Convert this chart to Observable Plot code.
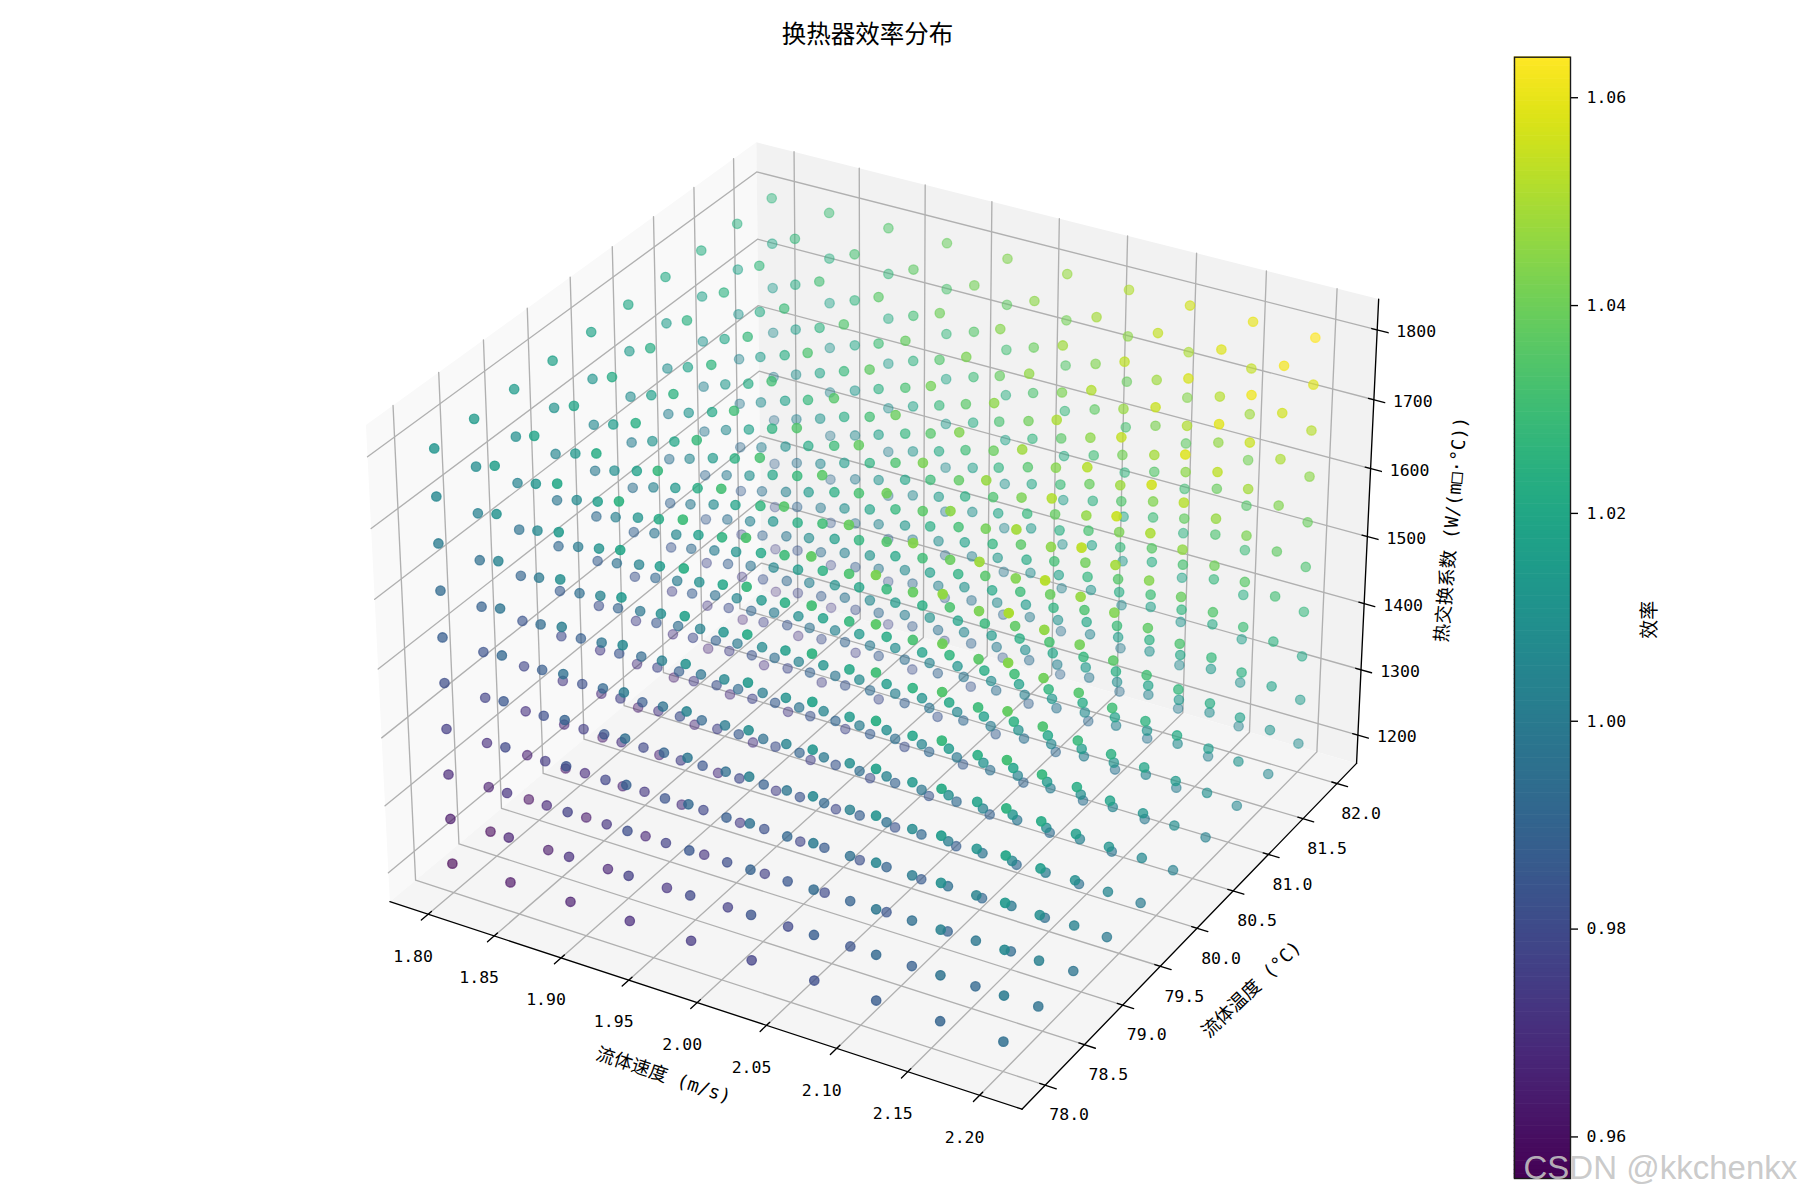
<!DOCTYPE html>
<html><head><meta charset="utf-8">
<style>
html,body{margin:0;padding:0;background:#fff;width:1800px;height:1200px;overflow:hidden}
#row{display:flex;width:1800px;height:1200px}
svg{display:block}
</style>
<script src="https://cdn.jsdelivr.net/npm/d3@7"></script>
<script src="https://cdn.jsdelivr.net/npm/@observablehq/plot@0.6"></script>
</head><body><div id="row"></div>
<script>
const velocities = [1.8, 1.844, 1.889, 1.933, 1.978, 2.022, 2.067, 2.111, 2.156, 2.2];
const temperatures = [78, 78.44, 78.89, 79.33, 79.78, 80.22, 80.67, 81.11, 81.56, 82];
const coefficients = [1200, 1267, 1333, 1400, 1467, 1533, 1600, 1667, 1733, 1800];
const velocityTicks = [1.8, 1.85, 1.9, 1.95, 2.0, 2.05, 2.1, 2.15, 2.2];
const temperatureTicks = [78, 78.5, 79, 79.5, 80, 80.5, 81, 81.5, 82];
const coefficientTicks = [1200, 1300, 1400, 1500, 1600, 1700, 1800];
const efficiencyTicks = [0.96, 0.98, 1.0, 1.02, 1.04, 1.06];
const efficiencyDomain = [0.956, 1.0639];
// efficiency x 1000: one block per coefficient, one row per temperature, one column per velocity
const efficiency1200 = [
956,960,964,969,973,977,981,986,990,994,
958,962,966,971,975,979,983,988,992,996,
959,963,967,972,976,980,984,989,993,997,
961,965,969,974,978,982,986,991,995,999,
962,966,970,975,979,983,987,992,996,1000,
964,968,972,977,981,985,989,994,998,1002,
965,969,973,978,982,986,990,995,999,1003,
967,971,975,980,984,988,992,997,1001,1005,
968,972,976,981,985,989,993,998,1002,1006,
970,974,978,983,987,991,995,1000,1004,1008];
const efficiency1267 = [
962,966,970,975,979,983,987,992,996,1000,
964,968,972,977,981,985,989,994,998,1002,
965,969,973,978,982,986,990,995,999,1003,
967,971,975,980,984,988,992,997,1001,1005,
968,972,976,981,985,989,993,998,1002,1006,
970,974,978,983,987,991,995,1000,1004,1008,
971,975,979,984,988,992,996,1001,1005,1009,
973,977,981,986,990,994,998,1003,1007,1011,
974,978,982,987,991,995,999,1004,1008,1012,
976,980,984,989,993,997,1001,1006,1010,1014];
const efficiency1333 = [
968,972,976,981,985,989,993,998,1002,1006,
970,974,978,983,987,991,995,1000,1004,1008,
971,975,979,984,988,992,996,1001,1005,1009,
973,977,981,986,990,994,998,1003,1007,1011,
974,978,982,987,991,995,999,1004,1008,1012,
976,980,984,989,993,997,1001,1006,1010,1014,
977,981,985,990,994,998,1002,1007,1011,1015,
979,983,987,992,996,1000,1004,1009,1013,1017,
980,984,988,993,997,1001,1005,1010,1014,1018,
982,986,990,995,999,1003,1007,1012,1016,1020];
const efficiency1400 = [
975,979,983,988,992,996,1000,1005,1009,1013,
977,981,985,990,994,998,1002,1007,1011,1015,
978,982,986,991,995,999,1003,1008,1012,1016,
980,984,988,993,997,1001,1005,1010,1014,1018,
981,985,989,994,998,1002,1006,1011,1015,1019,
983,987,991,996,1000,1004,1008,1013,1017,1021,
984,988,992,997,1001,1005,1009,1014,1018,1022,
986,990,994,999,1003,1007,1011,1016,1020,1024,
987,991,995,1000,1004,1008,1012,1017,1021,1025,
989,993,997,1002,1006,1010,1014,1019,1023,1027];
const efficiency1467 = [
981,985,989,994,998,1002,1006,1011,1015,1019,
983,987,991,996,1000,1004,1008,1013,1017,1021,
984,988,992,997,1001,1005,1009,1014,1018,1022,
986,990,994,999,1003,1007,1011,1016,1020,1024,
987,991,995,1000,1004,1008,1012,1017,1021,1025,
989,993,997,1002,1006,1010,1014,1019,1023,1027,
990,994,998,1003,1007,1011,1015,1020,1024,1028,
992,996,1000,1005,1009,1013,1017,1022,1026,1030,
993,997,1001,1006,1010,1014,1018,1023,1027,1031,
995,999,1003,1008,1012,1016,1020,1025,1029,1033];
const efficiency1533 = [
987,991,995,1000,1004,1008,1012,1017,1021,1025,
989,993,997,1002,1006,1010,1014,1019,1023,1027,
990,994,998,1003,1007,1011,1015,1020,1024,1028,
992,996,1000,1005,1009,1013,1017,1022,1026,1030,
993,997,1001,1006,1010,1014,1018,1023,1027,1031,
995,999,1003,1008,1012,1016,1020,1025,1029,1033,
996,1000,1004,1009,1013,1017,1021,1026,1030,1034,
998,1002,1006,1011,1015,1019,1023,1028,1032,1036,
999,1003,1007,1012,1016,1020,1024,1029,1033,1037,
1001,1005,1009,1014,1018,1022,1026,1031,1035,1039];
const efficiency1600 = [
993,997,1001,1006,1010,1014,1018,1023,1027,1031,
995,999,1003,1008,1012,1016,1020,1025,1029,1033,
996,1000,1004,1009,1013,1017,1021,1026,1030,1034,
998,1002,1006,1011,1015,1019,1023,1028,1032,1036,
999,1003,1007,1012,1016,1020,1024,1029,1033,1037,
1001,1005,1009,1014,1018,1022,1026,1031,1035,1039,
1002,1006,1010,1015,1019,1023,1027,1032,1036,1040,
1004,1008,1012,1017,1021,1025,1029,1034,1038,1042,
1005,1009,1013,1018,1022,1026,1030,1035,1039,1043,
1007,1011,1015,1020,1024,1028,1032,1037,1041,1045];
const efficiency1667 = [
1000,1004,1008,1013,1017,1021,1025,1030,1034,1038,
1002,1006,1010,1015,1019,1023,1027,1032,1036,1040,
1003,1007,1011,1016,1020,1024,1028,1033,1037,1041,
1005,1009,1013,1018,1022,1026,1030,1035,1039,1043,
1006,1010,1014,1019,1023,1027,1031,1036,1040,1044,
1008,1012,1016,1021,1025,1029,1033,1038,1042,1046,
1009,1013,1017,1022,1026,1030,1034,1039,1043,1047,
1011,1015,1019,1024,1028,1032,1036,1041,1045,1049,
1012,1016,1020,1025,1029,1033,1037,1042,1046,1050,
1014,1018,1022,1027,1031,1035,1039,1044,1048,1052];
const efficiency1733 = [
1006,1010,1014,1019,1023,1027,1031,1036,1040,1044,
1008,1012,1016,1021,1025,1029,1033,1038,1042,1046,
1009,1013,1017,1022,1026,1030,1034,1039,1043,1047,
1011,1015,1019,1024,1028,1032,1036,1041,1045,1049,
1012,1016,1020,1025,1029,1033,1037,1042,1046,1050,
1014,1018,1022,1027,1031,1035,1039,1044,1048,1052,
1015,1019,1023,1028,1032,1036,1040,1045,1049,1053,
1017,1021,1025,1030,1034,1038,1042,1047,1051,1055,
1018,1022,1026,1031,1035,1039,1043,1048,1052,1056,
1020,1024,1028,1033,1037,1041,1045,1050,1054,1058];
const efficiency1800 = [
1012,1016,1020,1025,1029,1033,1037,1042,1046,1050,
1014,1018,1022,1027,1031,1035,1039,1044,1048,1052,
1015,1019,1023,1028,1032,1036,1040,1045,1049,1053,
1017,1021,1025,1030,1034,1038,1042,1047,1051,1055,
1018,1022,1026,1031,1035,1039,1043,1048,1052,1056,
1020,1024,1028,1033,1037,1041,1045,1050,1054,1058,
1021,1025,1029,1034,1038,1042,1046,1051,1055,1059,
1023,1027,1031,1036,1040,1044,1048,1053,1057,1061,
1024,1028,1032,1037,1041,1045,1049,1054,1058,1062,
1026,1030,1034,1039,1043,1047,1051,1056,1060,1064];
const efficiencyLayers = [efficiency1200, efficiency1267, efficiency1333, efficiency1400, efficiency1467, efficiency1533, efficiency1600, efficiency1667, efficiency1733, efficiency1800];

const FONT = '"DejaVu Sans Mono","Noto Sans CJK SC",monospace';
const CJK = '"Noto Sans CJK SC",sans-serif';

// matplotlib's mplot3d view: elev 30, azim -60, box aspect 4:4:3, dist 10
const vLim = [1.78, 2.22], tLim = [77.8, 82.2], zLim = [1170, 1830];
const pane = l => [l[0] - (l[1] - l[0]) / 48, l[1] + (l[1] - l[0]) / 48];
const vP = pane(vLim), tP = pane(tLim), zP = pane(zLim);
const BX = 1.19048, BZ = 0.89286;
const U = [0.86603, 0.5, 0], V = [-0.25, 0.43301, 0.86603], W = [0.43301, -0.75, 0.5];
const SCALE = 5837, OX = 882, OY = 601;
function project(v, t, z) {
  const d = [(v - vLim[0]) / (vLim[1] - vLim[0]) * BX - BX / 2,
             (t - tLim[0]) / (tLim[1] - tLim[0]) * BX - BX / 2,
             (z - zLim[0]) / (zLim[1] - zLim[0]) * BZ - BZ / 2];
  const dot = a => a[0] * d[0] + a[1] * d[1] + a[2] * d[2];
  const near = dot(W), den = 10 - near;
  return {px: OX + SCALE * dot(U) / den, py: OY - SCALE * dot(V) / den, near};
}

const points = [];
coefficients.forEach((z, k) => temperatures.forEach((t, j) => velocities.forEach((v, i) => {
  points.push({...project(v, t, z), eff: efficiencyLayers[k][j * 10 + i] / 1000});
})));
const nearExt = d3.extent(points, d => d.near);
points.forEach(d => { d.alpha = 1 - (nearExt[1] - d.near) / (nearExt[1] - nearExt[0]) * 0.7; });
points.sort((a, b) => a.near - b.near);

const path = (id, pts) => pts.map(p => ({...project(...p), id}));
const panes = [
  {fill: "#f9f9f9", pts: path("x", [[vP[0],tP[0],zP[0]],[vP[0],tP[1],zP[0]],[vP[0],tP[1],zP[1]],[vP[0],tP[0],zP[1]],[vP[0],tP[0],zP[0]]])},
  {fill: "#f2f2f2", pts: path("y", [[vP[0],tP[1],zP[0]],[vP[1],tP[1],zP[0]],[vP[1],tP[1],zP[1]],[vP[0],tP[1],zP[1]],[vP[0],tP[1],zP[0]]])},
  {fill: "#f5f5f5", pts: path("z", [[vP[0],tP[0],zP[0]],[vP[1],tP[0],zP[0]],[vP[1],tP[1],zP[0]],[vP[0],tP[1],zP[0]],[vP[0],tP[0],zP[0]]])}
];
const grid = [
  ...velocityTicks.flatMap(v => path("v" + v, [[v,tP[0],zP[0]],[v,tP[1],zP[0]],[v,tP[1],zP[1]]])),
  ...temperatureTicks.flatMap(t => path("t" + t, [[vP[1],t,zP[0]],[vP[0],t,zP[0]],[vP[0],t,zP[1]]])),
  ...coefficientTicks.flatMap(z => path("c" + z, [[vP[0],tP[0],z],[vP[0],tP[1],z],[vP[1],tP[1],z]]))
];
const axisLines = [
  ...path("ax", [[vP[0],tP[0],zP[0]],[vP[1],tP[0],zP[0]]]),
  ...path("ay", [[vP[1],tP[0],zP[0]],[vP[1],tP[1],zP[0]]]),
  ...path("az", [[vP[1],tP[1],zP[0]],[vP[1],tP[1],zP[1]]])
];
const dvT = (tP[1] - tP[0]) / 12, dvV = (vP[1] - vP[0]) / 12;
const tickLines = [
  ...velocityTicks.flatMap(v => path("xt" + v, [[v,tP[0] + dvT * 0.1,zP[0]],[v,tP[0] - dvT * 0.2,zP[0]]])),
  ...temperatureTicks.flatMap(t => path("yt" + t, [[vP[1] - dvV * 0.1,t,zP[0]],[vP[1] + dvV * 0.2,t,zP[0]]])),
  ...coefficientTicks.flatMap(z => path("zt" + z, [[vP[1] - dvV * 0.1,tP[1],z],[vP[1] + dvV * 0.2,tP[1],z]]))
];
const xLabels = velocityTicks.map(v => ({...project(v, tP[0], zP[0]), text: v.toFixed(2)}));
const yLabels = temperatureTicks.map(t => ({...project(vP[1], t, zP[0]), text: t.toFixed(1)}));
const zLabels = coefficientTicks.map(z => ({...project(vP[1], tP[1], z), text: String(z)}));
const tickText = (data, dx, dy) => Plot.text(data, {x: "px", y: "py", text: "text", dx, dy, fontSize: 16.5, fontFamily: FONT, fill: "#000", textAnchor: "middle", lineAnchor: "middle"});
const annotation = (text, x, y, rotate, fontSize) => Plot.text([text], {x: () => x, y: () => y, text: d => d, rotate, fontSize, fontFamily: FONT, fill: "#000", textAnchor: "middle", lineAnchor: "middle"});

const main = Plot.plot({
  width: 1500, height: 1200, margin: 0,
  x: {domain: [0, 1500], range: [0, 1500], axis: null},
  y: {domain: [0, 1200], range: [0, 1200], axis: null},
  color: {type: "linear", scheme: "viridis", domain: efficiencyDomain},
  style: {background: "#fff"},
  marks: [
    ...panes.map(p => Plot.line(p.pts, {x: "px", y: "py", fill: p.fill, stroke: "none"})),
    Plot.line(grid, {x: "px", y: "py", z: "id", stroke: "#b0b0b0", strokeWidth: 1.35}),
    Plot.line(axisLines, {x: "px", y: "py", z: "id", stroke: "#000", strokeWidth: 1.35}),
    Plot.line(tickLines, {x: "px", y: "py", z: "id", stroke: "#000", strokeWidth: 1.35}),
    Plot.dot(points, {x: "px", y: "py", r: 4.7, fill: "eff", stroke: "eff", strokeWidth: 1.3,
      fillOpacity: {value: d => d.alpha, scale: null}, strokeOpacity: {value: d => d.alpha, scale: null}}),
    tickText(xLabels, -15, 42),
    tickText(yLabels, 24, 30),
    tickText(zLabels, 39, 2),
    annotation("换热器效率分布", 867, 35, 0, 24.5),
    annotation("流体速度 (m/s)", 663, 1075, 18.4, 18.5),
    annotation("流体温度 (°C)", 1251, 989, -44, 18.5),
    annotation("热交换系数 (W/(m□·°C))", 1451, 529, -85, 18.5)
  ]
});

const bandEdges = d3.range(257).map(i => efficiencyDomain[0] + (efficiencyDomain[1] - efficiencyDomain[0]) * i / 256);
const bands = d3.pairs(bandEdges).map(([a, b]) => ({a, b, mid: (a + b) / 2}));
const bar = Plot.plot({
  width: 300, height: 1200,
  marginLeft: 14, marginRight: 230, marginTop: 56.7, marginBottom: 22,
  x: {domain: [0, 1], axis: null},
  y: {domain: efficiencyDomain, axis: null},
  color: {type: "linear", scheme: "viridis", domain: efficiencyDomain},
  marks: [
    Plot.rect(bands, {x1: () => 0, x2: () => 1, y1: "a", y2: "b", fill: "mid", inset: -0.3}),
    Plot.frame({stroke: "#1a1a1a", strokeWidth: 1.4}),
    Plot.axisY(efficiencyTicks, {anchor: "right", tickSize: 7, tickPadding: 9, tickFormat: d => d.toFixed(2), fontSize: 16.5, fontFamily: FONT, label: null, strokeWidth: 1.35, stroke: "#000", color: "#000"}),
    Plot.text(["效率"], {frameAnchor: "middle", dx: 107, dy: 2, text: d => d, rotate: -90, fontSize: 19, fontFamily: CJK, fill: "#000"}),
    Plot.text(["CSDN @kkchenkx"], {frameAnchor: "bottom-left", dx: 9, dy: -10, text: d => d, textAnchor: "start", lineAnchor: "middle", fontSize: 33, fontFamily: '"Liberation Sans",sans-serif', fill: "#c4c4c4", fillOpacity: 0.9})
  ]
});
document.getElementById("row").append(main, bar);
</script></body></html>
